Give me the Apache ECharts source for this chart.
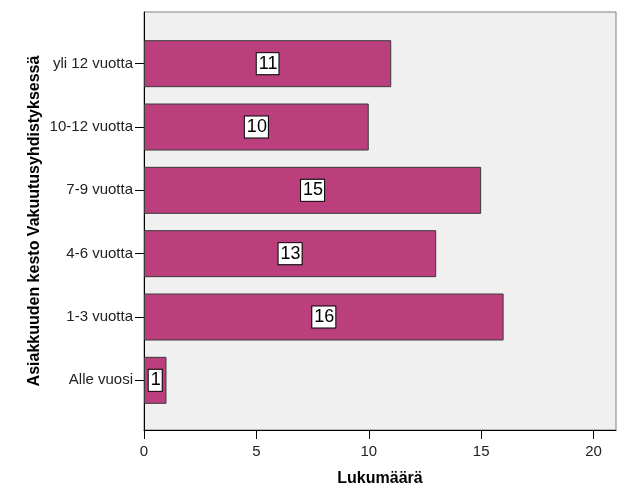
<!DOCTYPE html>
<html><head><meta charset="utf-8">
<script src="https://cdn.jsdelivr.net/npm/echarts@6/dist/echarts.min.js"></script>
<style>html,body{margin:0;padding:0;background:#fff}#c{width:629px;height:504px}</style>
</head><body><div id="c"></div>
<script>
const categories = ['Alle vuosi', '1-3 vuotta', '4-6 vuotta', '7-9 vuotta', '10-12 vuotta', 'yli 12 vuotta'];
const counts = [1, 16, 13, 15, 10, 11];
const xTicks = [0, 5, 10, 15, 20];

const font = '"Liberation Sans", Arial, sans-serif';
const chart = echarts.init(document.getElementById('c'), null, {renderer: 'canvas'});
chart.setOption({
  animation: false,
  backgroundColor: '#ffffff',
  grid: [
    {left: 144, right: 13, top: 12, bottom: 74, show: true, backgroundColor: '#f0f0f0', borderColor: '#808080', borderWidth: 1},
    {left: 144, right: 13, top: 32, height: 380}
  ],
  xAxis: [
    {type: 'value', gridIndex: 0, min: 0, max: 21, interval: 5,
     name: 'Lukumäärä', nameLocation: 'middle', nameGap: 41,
     nameTextStyle: {fontFamily: font, fontSize: 16, fontWeight: 'bold', color: '#000'},
     axisLine: {show: true, lineStyle: {color: '#000', width: 1}},
     axisTick: {show: true, length: 9, lineStyle: {color: '#000'}, customValues: xTicks},
     axisLabel: {fontFamily: font, fontSize: 15, color: '#222', margin: 14, customValues: xTicks},
     splitLine: {show: false}},
    {type: 'value', gridIndex: 1, min: 0, max: 21, show: false, splitLine: {show: false}}
  ],
  yAxis: [
    {type: 'value', gridIndex: 0, min: 0, max: 1,
     name: 'Asiakkuuden kesto Vakuutusyhdistyksessä', nameLocation: 'middle', nameGap: 101, nameRotate: 90,
     nameTextStyle: {fontFamily: font, fontSize: 16, fontWeight: 'bold', color: '#000'},
     axisLine: {show: true, lineStyle: {color: '#000'}}, axisTick: {show: false}, axisLabel: {show: false}, splitLine: {show: false}},
    {type: 'category', gridIndex: 1, data: categories,
     axisLine: {show: false}, axisTick: {show: true, alignWithLabel: true, length: 9, lineStyle: {color: '#000'}},
     axisLabel: {fontFamily: font, fontSize: 15, color: '#222', margin: 11}}
  ],
  series: [{
    type: 'bar', xAxisIndex: 1, yAxisIndex: 1, data: counts, barWidth: 47,
    itemStyle: {color: '#bb3f7c', borderColor: '#3a3a3a', borderWidth: 1},
    label: {show: true, position: 'inside', fontFamily: font, fontSize: 18, color: '#000',
      backgroundColor: '#fff', borderColor: '#000', borderWidth: 1, padding: [2, 1, 1, 2]}
  }]
});
</script></body></html>
